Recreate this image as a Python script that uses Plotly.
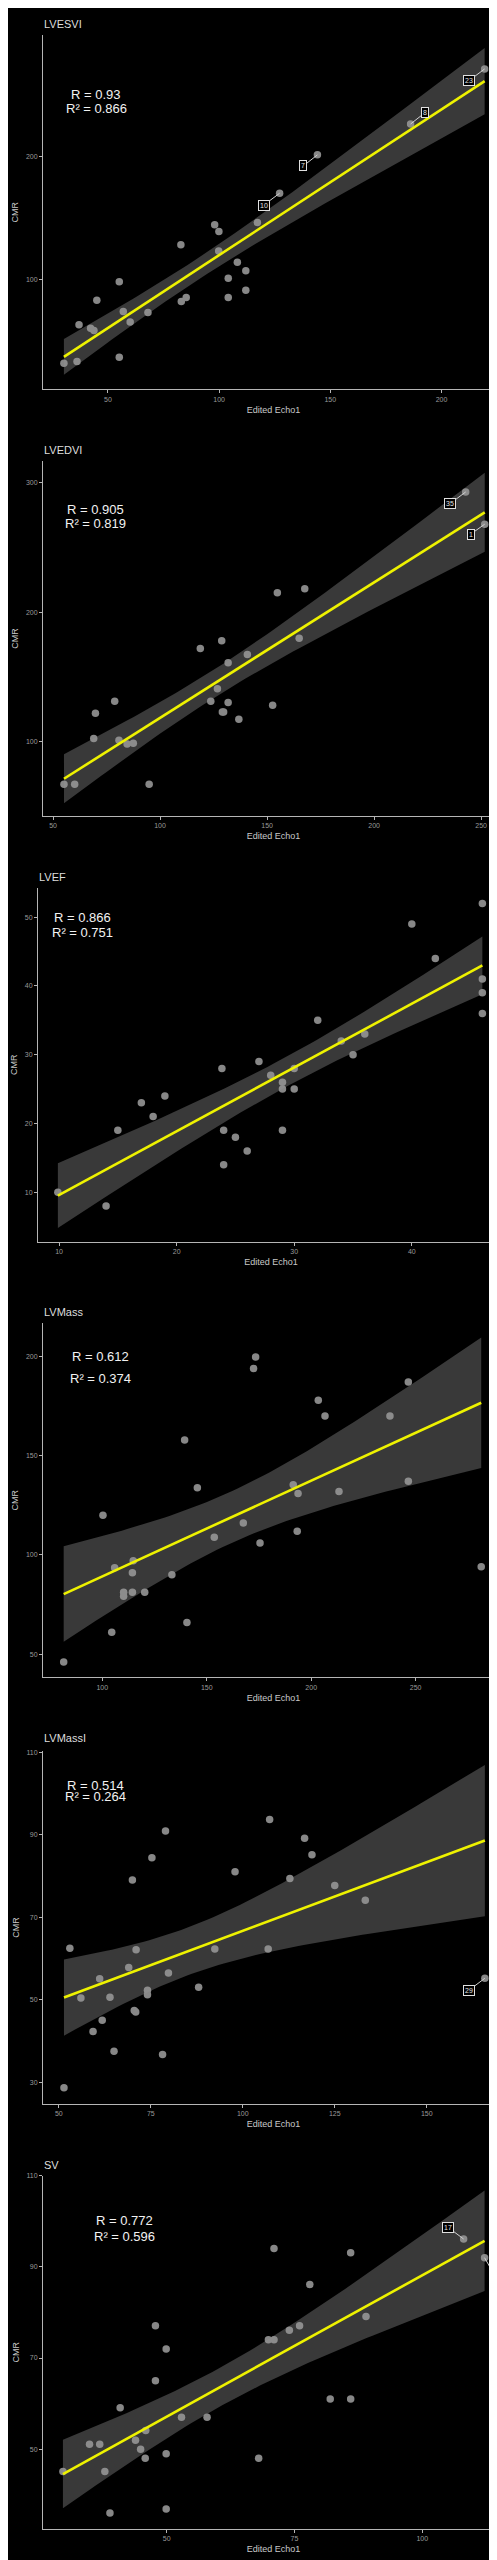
import numpy as np
import plotly.graph_objects as go

W, H = 497, 2560

# ---------------- data ----------------
panel_names = ["LVESVI", "LVEDVI", "LVEF", "LVMass", "LVMassI", "SV"]

lvesvi_echo = [30.2, 36.1, 37.0, 42.2, 43.7, 45.0, 55.1, 55.1, 56.9, 60.0, 68.0, 82.8, 83.0, 85.2,
               98.0, 99.9, 99.8, 104.1, 104.1, 108.2, 112.0, 112.0, 117.2, 127.2, 144.2, 186.1, 219.4]
lvesvi_cmr = [31.5, 32.9, 62.8, 60.0, 58.2, 82.9, 98.0, 36.4, 73.6, 65.0, 72.8, 128.0, 81.8, 85.0,
              144.3, 138.9, 123.0, 100.8, 85.0, 113.9, 106.8, 91.0, 146.2, 170.1, 201.4, 226.6, 271.5]

lvedvi_echo = [55.1, 60.1, 69.0, 69.8, 78.8, 80.8, 84.6, 87.5, 94.9, 118.8, 123.7, 126.8, 128.8,
               129.1, 129.7, 131.8, 131.8, 136.8, 140.8, 152.6, 154.8, 165.0, 167.6, 242.8, 251.7]
lvedvi_cmr = [67.0, 67.0, 102.3, 121.9, 131.1, 101.0, 98.0, 98.7, 67.0, 172.0, 131.1, 140.9, 178.0,
              122.9, 122.9, 161.0, 130.1, 117.2, 167.2, 128.1, 215.1, 179.8, 218.1, 293.0, 268.1]

lvef_echo = [9.9, 14, 15, 17, 18, 19, 23.85, 24, 24, 25, 26, 27, 28, 29, 29, 29, 30, 30, 32, 34,
             35, 36, 40, 42, 46, 46, 46, 46]
lvef_cmr = [10, 8, 19, 23, 21, 24, 28, 19, 14, 18, 16, 29, 27, 26, 25, 19, 28, 25, 35, 32,
            30, 33, 49, 44, 52, 41, 39, 36]

lvmass_echo = [81.5, 100.3, 104.5, 105.9, 110.2, 110.2, 114.4, 114.4, 114.8, 120.3, 133.3, 139.4,
               140.5, 145.5, 153.6, 167.5, 172.4, 173.4, 175.5, 191.4, 193.3, 193.7, 203.4, 206.6,
               213.3, 237.7, 246.5, 246.5, 281.4]
lvmass_cmr = [46.1, 120.0, 61.1, 93.5, 81.2, 79.2, 91.0, 81.2, 97.1, 81.2, 90.0, 157.9,
              66.0, 133.9, 108.9, 116.1, 194.0, 199.8, 106.0, 135.4, 111.9, 131.0, 178.0, 170.0,
              132.0, 170.0, 187.1, 137.1, 94.0]

lvmassi_echo = [51.4, 53.0, 56.0, 59.3, 61.1, 61.8, 63.9, 65.0, 69.0, 70.0, 70.5, 70.9, 71.0, 74.1,
                74.1, 75.3, 78.2, 79.0, 79.8, 88.0, 92.4, 97.9, 106.9, 107.3, 112.8, 116.8, 118.8,
                125.0, 133.3, 165.8]
lvmassi_cmr = [28.7, 62.5, 50.4, 42.3, 55.1, 45.0, 50.6, 37.5, 57.8, 79.0, 47.4, 47.0, 62.1, 52.3,
               51.2, 84.4, 36.7, 90.9, 56.5, 53.0, 62.3, 81.0, 62.3, 93.7, 79.4, 89.1, 85.1,
               77.7, 74.1, 55.2]

sv_echo = [29.7, 34.9, 36.9, 37.9, 38.9, 40.9, 43.9, 44.9, 45.8, 45.9, 47.8, 47.8, 49.9, 49.9, 49.9,
           52.9, 57.9, 68.0, 69.9, 71.0, 71.0, 74.0, 76.0, 78.0, 82.0, 86.0, 86.0, 89.0, 108.1, 112.2]
sv_cmr = [45.1, 51.1, 51.1, 45.1, 36.0, 59.1, 52.0, 50.0, 48.0, 54.1, 77.1, 65.0, 72.0, 49.0, 36.9,
          57.0, 57.0, 48.0, 74.0, 74.0, 94.0, 76.1, 77.1, 86.1, 61.0, 61.0, 93.1, 79.1, 96.1, 92.0]

r_values = ["0.93", "0.905", "0.866", "0.612", "0.514", "0.772"]
r2_values = ["0.866", "0.819", "0.751", "0.374", "0.264", "0.596"]

x_tick_values = [[50, 100, 150, 200], [50, 100, 150, 200, 250], [10, 20, 30, 40],
                 [100, 150, 200, 250], [50, 75, 100, 125, 150], [50, 75, 100]]
y_tick_values = [[100, 200], [100, 200, 300], [10, 20, 30, 40, 50],
                 [50, 100, 150, 200], [30, 50, 70, 90, 110], [50, 70, 90, 110]]

x_axis_title = "Edited Echo1"
y_axis_title = "CMR"

# labelled points: (panel, label text, point x, point y)
point_labels = [
    (0, "23", 219.4, 271.5), (0, "8", 186.1, 226.6), (0, "7", 144.2, 201.4), (0, "10", 127.2, 170.1),
    (1, "35", 242.8, 293.0), (1, "1", 251.7, 268.1),
    (4, "29", 165.8, 55.2),
    (5, "17", 108.1, 96.1), (5, "1", 112.2, 92.0),
]

echo_data = [lvesvi_echo, lvedvi_echo, lvef_echo, lvmass_echo, lvmassi_echo, sv_echo]
cmr_data = [lvesvi_cmr, lvedvi_cmr, lvef_cmr, lvmass_cmr, lvmassi_cmr, sv_cmr]

# ---------------- layout geometry (pixels) ----------------
tops = [23, 450, 877, 1313, 1742, 2167]
bottoms = [378, 805, 1232, 1668, 2095, 2521]
lefts = [35, 35, 30, 35, 35, 35]
right = 496
x_ranges = [[20.8, 228.1], [45.3, 260.7], [8.21, 47.84], [71.6, 292.3], [45.7, 171.0], [25.8, 116.0]]
y_ranges = [[10.1, 299.2], [42.6, 316.7], [2.74, 54.3], [38.3, 216.9], [24.8, 110.2], [32.5, 110.0]]
title_y = [12, 439, 866, 1302, 1729, 2156]
stat_pos = [(88, 83, 97), (87, 498, 512), (74, 907, 922), (92, 1347, 1369), (87, 1776, 1787), (116, 2212, 2228)]
label_offsets = [(-16, 12), (14, -11), (-14, 11), (-16, 12), (-16, 12), (-14, 10), (-16, 12), (-16, -12), (8, 14)]

FONT = "Liberation Sans, Arial, sans-serif"


def px(xp):
    return xp / W


def py(yp):
    return 1 - yp / H


def t_crit(df):
    z = 1.959964
    return z + (z**3 + z) / (4 * df) + (5 * z**5 + 16 * z**3 + 3 * z) / (96 * df**2)


fig = go.Figure()
annotations = []
layout_axes = {}

for i in range(6):
    xs = np.array(echo_data[i], dtype=float)
    ys = np.array(cmr_data[i], dtype=float)
    sfx = "" if i == 0 else str(i + 1)
    xa, ya = "x" + sfx, "y" + sfx

    # points
    fig.add_trace(go.Scatter(x=xs, y=ys, mode="markers", xaxis=xa, yaxis=ya,
                             marker=dict(size=7.5, color="#878787"), showlegend=False, hoverinfo="skip"))

    # linear fit + 95% CI
    n = len(xs)
    b1, b0 = np.polyfit(xs, ys, 1)
    resid = ys - (b0 + b1 * xs)
    s = np.sqrt(np.sum(resid**2) / (n - 2))
    xbar = xs.mean()
    sxx = np.sum((xs - xbar) ** 2)
    xg = np.linspace(xs.min(), xs.max(), 80)
    yg = b0 + b1 * xg
    se = s * np.sqrt(1 / n + (xg - xbar) ** 2 / sxx)
    tc = t_crit(n - 2)
    up, lo = yg + tc * se, yg - tc * se
    fig.add_trace(go.Scatter(x=np.concatenate([xg, xg[::-1]]), y=np.concatenate([up, lo[::-1]]),
                             mode="lines", fill="toself", fillcolor="rgba(150,150,150,0.38)",
                             line=dict(width=0), xaxis=xa, yaxis=ya, showlegend=False, hoverinfo="skip"))
    fig.add_trace(go.Scatter(x=xg, y=yg, mode="lines", line=dict(color="#eef200", width=2.6),
                             xaxis=xa, yaxis=ya, showlegend=False, hoverinfo="skip"))

    axis_common = dict(showgrid=False, zeroline=False, showline=True, linecolor="#b5b5b5", linewidth=1,
                       ticks="outside", ticklen=3, tickcolor="#b5b5b5", tickwidth=1,
                       tickfont=dict(size=7, color="#9a9a9a", family=FONT))
    layout_axes["xaxis" + sfx] = dict(axis_common, domain=[px(lefts[i]), px(right)], range=x_ranges[i],
                                      tickvals=x_tick_values[i], anchor=ya,
                                      title=dict(text=x_axis_title, standoff=4,
                                                 font=dict(size=9, color="#c8c8c8", family=FONT)))
    layout_axes["yaxis" + sfx] = dict(axis_common, domain=[py(bottoms[i]), py(tops[i])], range=y_ranges[i],
                                      tickvals=y_tick_values[i], anchor=xa,
                                      title=dict(text=y_axis_title, standoff=5,
                                                 font=dict(size=9, color="#c8c8c8", family=FONT)))

    # panel title
    annotations.append(dict(text=panel_names[i], x=px(lefts[i] - 1), y=py(title_y[i]), xref="paper", yref="paper",
                            xanchor="left", yanchor="middle", showarrow=False,
                            font=dict(size=11, color="#dedede", family=FONT)))
    # stats
    sx, sy1, sy2 = stat_pos[i]
    annotations.append(dict(text="R = " + r_values[i], x=px(sx), y=py(sy1), xref="paper", yref="paper",
                            xanchor="center", yanchor="middle", showarrow=False,
                            font=dict(size=13, color="#f2f2f2", family=FONT)))
    annotations.append(dict(text="R² = " + r2_values[i], x=px(sx), y=py(sy2), xref="paper", yref="paper",
                            xanchor="center", yanchor="middle", showarrow=False,
                            font=dict(size=13, color="#f2f2f2", family=FONT)))

# point labels (ggrepel style)
for (p, txt, lx, ly), (ox, oy) in zip(point_labels, label_offsets):
    sfx = "" if p == 0 else str(p + 1)
    annotations.append(dict(text=txt, x=lx, y=ly, xref="x" + sfx, yref="y" + sfx, showarrow=True,
                            arrowhead=0, arrowwidth=1, arrowcolor="#d0d0d0", ax=ox, ay=oy,
                            bordercolor="#e0e0e0", borderwidth=1, borderpad=1, bgcolor="#000000",
                            font=dict(size=7, color="#e0e0e0", family=FONT)))

fig.update_layout(width=W, height=H, margin=dict(l=0, r=0, t=0, b=0),
                  paper_bgcolor="#000000", plot_bgcolor="#000000",
                  annotations=annotations, showlegend=False, **layout_axes)

fig.write_html("out.html")
